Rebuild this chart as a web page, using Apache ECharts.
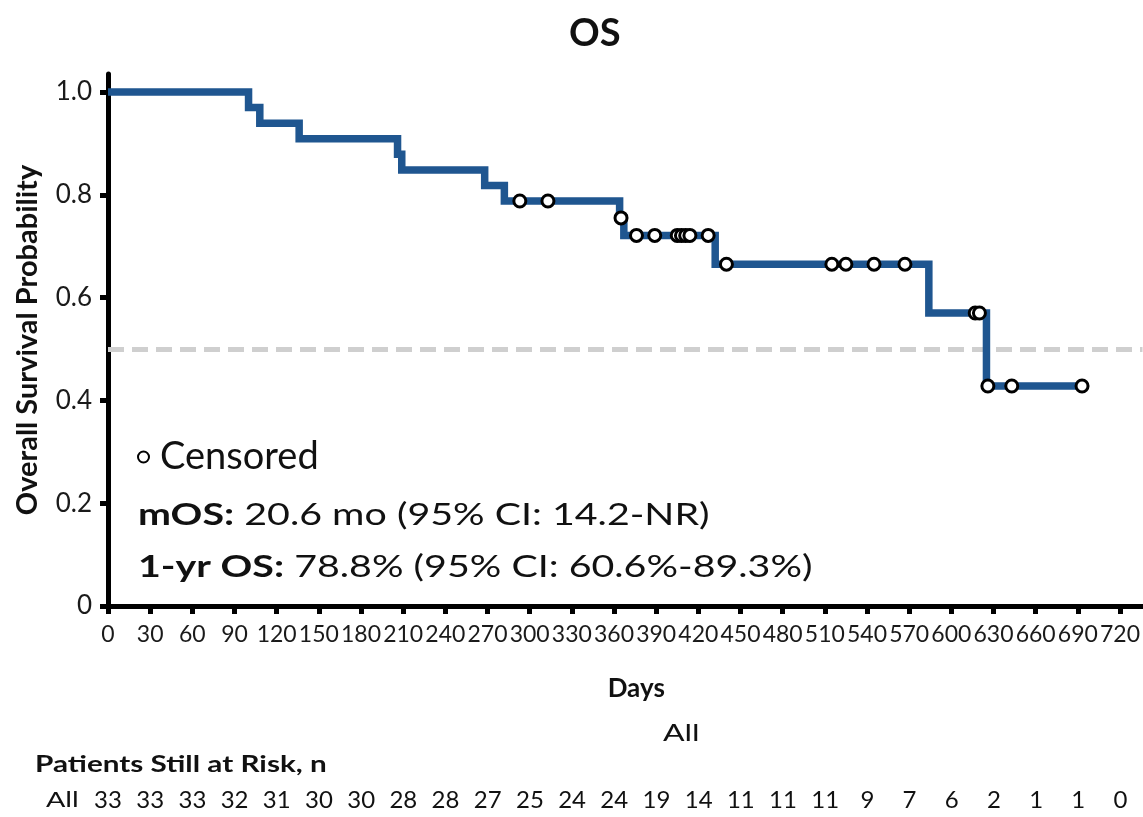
<!DOCTYPE html>
<html>
<head>
<meta charset="utf-8">
<script src="https://cdn.jsdelivr.net/npm/echarts@6/dist/echarts.min.js"></script>
<style>
html,body{margin:0;padding:0;background:#fff;}
#chart{width:1143px;height:817px;}
</style>
</head>
<body>
<div id="chart"></div>
<script>
// Kaplan-Meier step points (day, survival after that day)
const eventDays = [0, 100, 108, 136, 206, 209, 268, 282, 364, 367, 432, 584, 625, 693];
const survival  = [1.0, 0.970, 0.939, 0.909, 0.879, 0.848, 0.818, 0.788, 0.755, 0.721, 0.665, 0.570, 0.428, 0.428];
// Censored marks
const censorDays = [293, 313, 365, 376, 389, 405, 408, 411, 414, 427, 440, 515, 525, 545, 567, 617, 620, 626, 643, 693];
const censorSurv = [0.788, 0.788, 0.755, 0.721, 0.721, 0.721, 0.721, 0.721, 0.721, 0.721, 0.665, 0.665, 0.665, 0.665, 0.665, 0.570, 0.570, 0.428, 0.428, 0.428];
// Axis ticks
const xTicks = [0,30,60,90,120,150,180,210,240,270,300,330,360,390,420,450,480,510,540,570,600,630,660,690,720];
const yTicks = [0, 0.2, 0.4, 0.6, 0.8, 1.0];
// Patients at risk
const riskDays = xTicks;
const riskCounts = [33,33,33,32,31,30,30,28,28,27,25,24,24,19,14,11,11,11,9,7,6,2,1,1,0];
const medianRef = 0.5;

const FONT = 'Lato';
const chart = echarts.init(document.getElementById('chart'), null, {renderer: 'canvas'});

const lineData = eventDays.map((d, i) => [d, survival[i]]);
const censorData = censorDays.map((d, i) => [d, censorSurv[i]]);
const riskData = riskDays.map((d, i) => [d, 0, riskCounts[i]]);

function txt(x, y, text, size, sx, bold, rich) {
  const st = {text: text, fontFamily: FONT, fontSize: size, fill: '#111',
    fontWeight: bold ? 'bold' : 'normal', verticalAlign: 'middle', align: 'left'};
  if (rich) st.rich = rich;
  return {type: 'text', x: x, y: y, scaleX: sx, scaleY: 1, style: st};
}
const boldRich = s => ({b: {fontFamily: FONT, fontSize: s, fontWeight: 'bold', fill: '#111'}});

const option = {
  backgroundColor: '#ffffff',
  animation: false,
  textStyle: {fontFamily: FONT},
  title: {
    text: 'OS', left: 564, top: 10,
    textStyle: {fontFamily: FONT, fontSize: 38, fontWeight: 'bold', color: '#111'}
  },
  legend: {
    data: ['Censored'],
    left: 132, top: 433,
    itemWidth: 11, itemHeight: 11, itemGap: 8,
    textStyle: {fontFamily: FONT, fontSize: 38, color: '#111', padding: [0, 0, 0, 6]}
  },
  grid: [
    {left: 108, right: 0, top: 74, bottom: 211, containLabel: false},
    {left: 108, right: 0, top: 790, height: 20, containLabel: false}
  ],
  xAxis: [{
    type: 'value', gridIndex: 0, min: 0, max: 736,
    name: 'Days', nameLocation: 'middle', nameGap: 70,
    nameTextStyle: {fontFamily: FONT, fontSize: 26, fontWeight: 'bold', color: '#111', padding: [0,0,0,22]},
    axisLine: {show: true, onZero: false, lineStyle: {color: '#000', width: 5}},
    axisTick: {show: true, length: 8, customValues: xTicks, lineStyle: {color: '#000', width: 5}},
    axisLabel: {customValues: xTicks, fontFamily: FONT, fontSize: 23, color: '#1a1a1a', margin: 17},
    splitLine: {show: false}
  }, {
    type: 'value', gridIndex: 1, min: 0, max: 736,
    show: false
  }],
  yAxis: [{
    type: 'value', gridIndex: 0, min: 0, max: 1.035,
    name: 'Overall Survival Probability', nameLocation: 'middle', nameGap: 66, nameRotate: 90,
    nameTextStyle: {fontFamily: FONT, fontSize: 29, fontWeight: 'bold', color: '#111'},
    axisLine: {show: true, lineStyle: {color: '#000', width: 5}},
    axisTick: {show: true, length: 8, customValues: yTicks, lineStyle: {color: '#000', width: 5}},
    axisLabel: {customValues: yTicks, fontFamily: FONT, fontSize: 26, color: '#1a1a1a', margin: 16,
      formatter: v => v === 0 ? '0' : v.toFixed(1)},
    splitLine: {show: false}
  }, {
    type: 'value', gridIndex: 1, min: -1, max: 1, show: false
  }],
  series: [{
    name: 'OS', type: 'line', xAxisIndex: 0, yAxisIndex: 0,
    step: 'end', data: lineData, symbol: 'none',
    lineStyle: {color: '#1f5690', width: 7.5, cap: 'butt', join: 'miter'},
    z: 3,
    markLine: {
      silent: true, symbol: 'none', label: {show: false},
      lineStyle: {color: '#cfcfcf', type: [16, 8], width: 5},
      data: [{yAxis: medianRef}],
      z: 1
    }
  }, {
    name: 'Censored', type: 'scatter', xAxisIndex: 0, yAxisIndex: 0,
    data: censorData, symbol: 'circle', symbolSize: 12,
    itemStyle: {color: '#ffffff', borderColor: '#000', borderWidth: 3, opacity: 1},
    z: 5
  }, {
    name: 'risk', type: 'scatter', xAxisIndex: 1, yAxisIndex: 1,
    data: riskData, symbolSize: 1,
    itemStyle: {opacity: 0},
    label: {show: true, position: 'inside', formatter: p => String(p.value[2]),
      fontFamily: FONT, fontSize: 24, color: '#111', opacity: 1},
    silent: true
  }],
  graphic: [
    txt(138, 515, '{b|mOS:} 20.6 mo (95% CI: 14.2-NR)', 31, 1.27, false, boldRich(31)),
    txt(138, 567, '{b|1-yr OS:} 78.8% (95% CI: 60.6%-89.3%)', 31, 1.27, false, boldRich(31)),
    txt(663, 733, 'All', 24, 1.33, false),
    txt(35, 765, 'Patients Still at Risk, n', 22, 1.35, true),
    txt(46, 800, 'All', 22, 1.3, false)
  ]
};
chart.setOption(option);
</script>
</body>
</html>
